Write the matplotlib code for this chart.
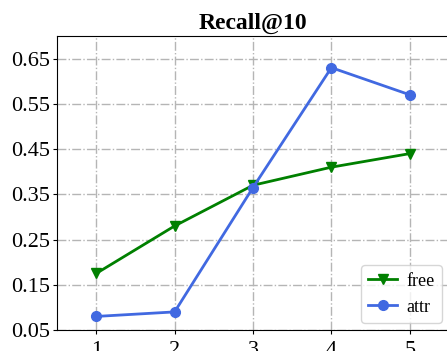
import matplotlib.pyplot as plt

x = [1, 2, 3, 4, 5]
free = [0.175, 0.28, 0.37, 0.41, 0.44]
attr = [0.08, 0.09, 0.365, 0.63, 0.57]
yticks = [0.05, 0.15, 0.25, 0.35, 0.45, 0.55, 0.65]

plt.rcParams['font.family'] = ['Liberation Serif', 'DejaVu Serif']

fig = plt.figure(figsize=(4.47, 3.51), dpi=100)
ax = fig.add_axes([57 / 447, 21 / 351, 392 / 447, 294 / 351])

ax.plot(x, free, color='green', marker='v', lw=2, ms=7, label='free')
ax.plot(x, attr, color='royalblue', marker='o', lw=2, ms=7, label='attr')

ax.set_xlim(0.5, 5.5)
ax.set_ylim(0.05, 0.70)
ax.set_xticks(x)
ax.set_yticks(yticks)
ax.set_yticklabels([f"{v:.2f}" for v in yticks])
ax.tick_params(labelsize=16, length=3)
ax.tick_params(axis='y', pad=2)
ax.tick_params(axis='x', pad=5)
ax.grid(True, linestyle='-.', color='#b5b5b5', lw=1)
ax.set_axisbelow(True)
ax.set_title('Recall@10', fontsize=17, fontweight='bold', pad=5)
ax.legend(loc='lower right', fontsize=13, handlelength=1.6,
          handletextpad=0.5, borderaxespad=0.4)

fig.savefig('out.png', dpi=100)
